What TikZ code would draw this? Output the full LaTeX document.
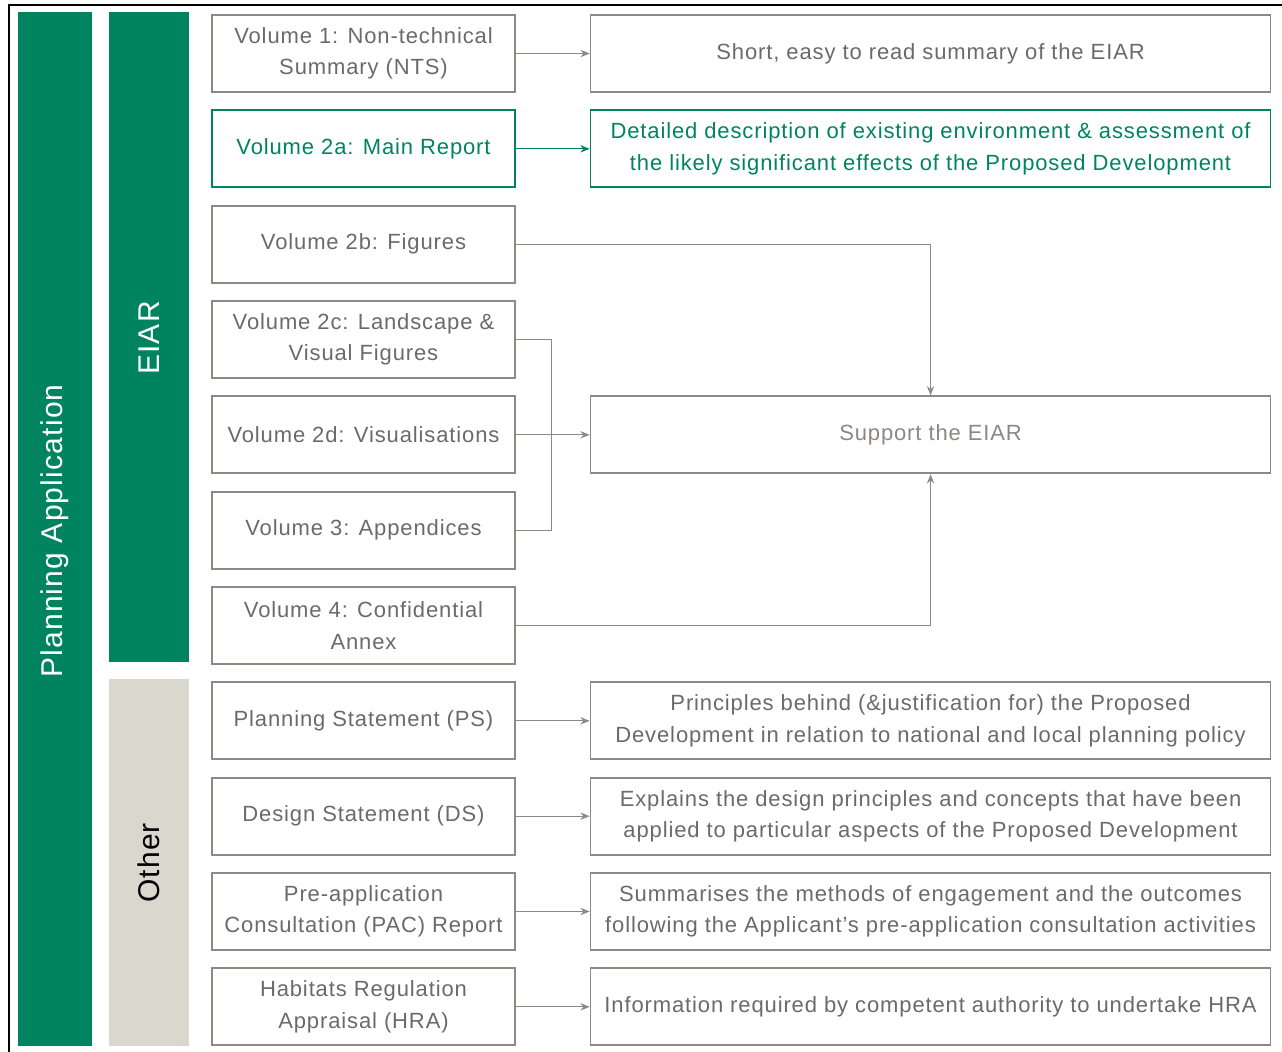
\documentclass[tikz,border=0pt]{standalone}
\usepackage{fontspec}
\setmainfont{Liberation Sans}[LetterSpace=4]
\usepackage{xcolor}
\usetikzlibrary{arrows.meta,positioning}
\definecolor{eiargreen}{HTML}{00845F}
\definecolor{othergray}{HTML}{D9D7CE}
\definecolor{edgegray}{HTML}{8E8985}
\definecolor{textgray}{HTML}{6A6A6A}
\definecolor{supgray}{HTML}{8F8680}

\begin{document}
\begin{tikzpicture}[
    x=0.75pt, y=-0.75pt,
    >={Stealth[length=7pt,width=5.5pt]},
    node distance=12.45pt and 55.5pt,
    vol/.style={draw=edgegray, line width=1.3pt, inner sep=0pt,
                minimum width=227pt, minimum height=57.75pt, align=center,
                font=\fontsize{16.5}{23.5}\selectfont, text=textgray},
    desc/.style={vol, minimum width=510pt},
    hl/.style={draw=eiargreen, text=eiargreen},
    arr/.style={->, line width=0.9pt, color=edgegray},
    barlbl/.style={rotate=90, font=\fontsize{22.5}{26}\selectfont},
  ]
  \useasboundingbox (0,0) rectangle (1282,1052);
  % outer frame
  \draw[line width=1.2pt] (9,1052) -- (9,5) -- (1282,5);

  % side bars
  \fill[eiargreen] (18,12) rectangle (92,1046);
  \fill[eiargreen] (109,12) rectangle (189,662);
  \fill[othergray] (109,679) rectangle (189,1046);
  \node[barlbl, text=white] (plan) at (55,531) {Planning Application};
  \node[barlbl, text=white] (eiar) at (149,338) {EIAR};
  \node[barlbl, text=black] (other) at (149,863) {Other};

  % left column
  \node[vol] (v1) at (363.5,53.5) {Volume 1: Non-technical\\Summary (NTS)};
  \node[vol, hl, below=of v1] (v2a) {Volume 2a: Main Report};
  \node[vol, below=of v2a] (v2b) {Volume 2b: Figures};
  \node[vol, below=of v2b] (v2c) {Volume 2c: Landscape \&\\Visual Figures};
  \node[vol, below=of v2c] (v2d) {Volume 2d: Visualisations};
  \node[vol, below=of v2d] (v3) {Volume 3: Appendices};
  \node[vol, below=of v3] (v4) {Volume 4: Confidential\\Annex};
  \node[vol, below=of v4] (ps) {Planning Statement (PS)};
  \node[vol, below=of ps] (ds) {Design Statement (DS)};
  \node[vol, below=of ds] (pac) {Pre-application\\Consultation (PAC) Report};
  \node[vol, below=of pac] (hra) {Habitats Regulation\\Appraisal (HRA)};

  % right column
  \node[desc, right=of v1] (d1) {Short, easy to read summary of the EIAR};
  \node[desc, hl, right=of v2a] (d2a) {Detailed description of existing environment \& assessment of\\the likely significant effects of the Proposed Development};
  \node[desc, right=of v2d, text=supgray] (sup) {Support the EIAR};
  \node[desc, right=of ps] (dps) {Principles behind (\&justification for) the Proposed\\Development in relation to national and local planning policy};
  \node[desc, right=of ds] (dds) {Explains the design principles and concepts that have been\\applied to particular aspects of the Proposed Development};
  \node[desc, right=of pac] (dpac) {Summarises the methods of engagement and the outcomes\\following the Applicant's pre-application consultation activities};
  \node[desc, right=of hra] (dhra) {Information required by competent authority to undertake HRA};

  % connectors
  \draw[arr] (v1) -- (d1);
  \draw[arr, color=eiargreen] (v2a) -- (d2a);
  \draw[arr] (v2b.east) -| (sup.north);
  \draw[arr] (v4.east) -| (sup.south);
  \draw[arr] (v2d) -- (sup);
  \draw[line width=0.9pt, color=edgegray] (v2c.east) -- ++(27pt,0) |- (v3.east);
  \draw[arr] (ps) -- (dps);
  \draw[arr] (ds) -- (dds);
  \draw[arr] (pac) -- (dpac);
  \draw[arr] (hra) -- (dhra);
\end{tikzpicture}
\end{document}
